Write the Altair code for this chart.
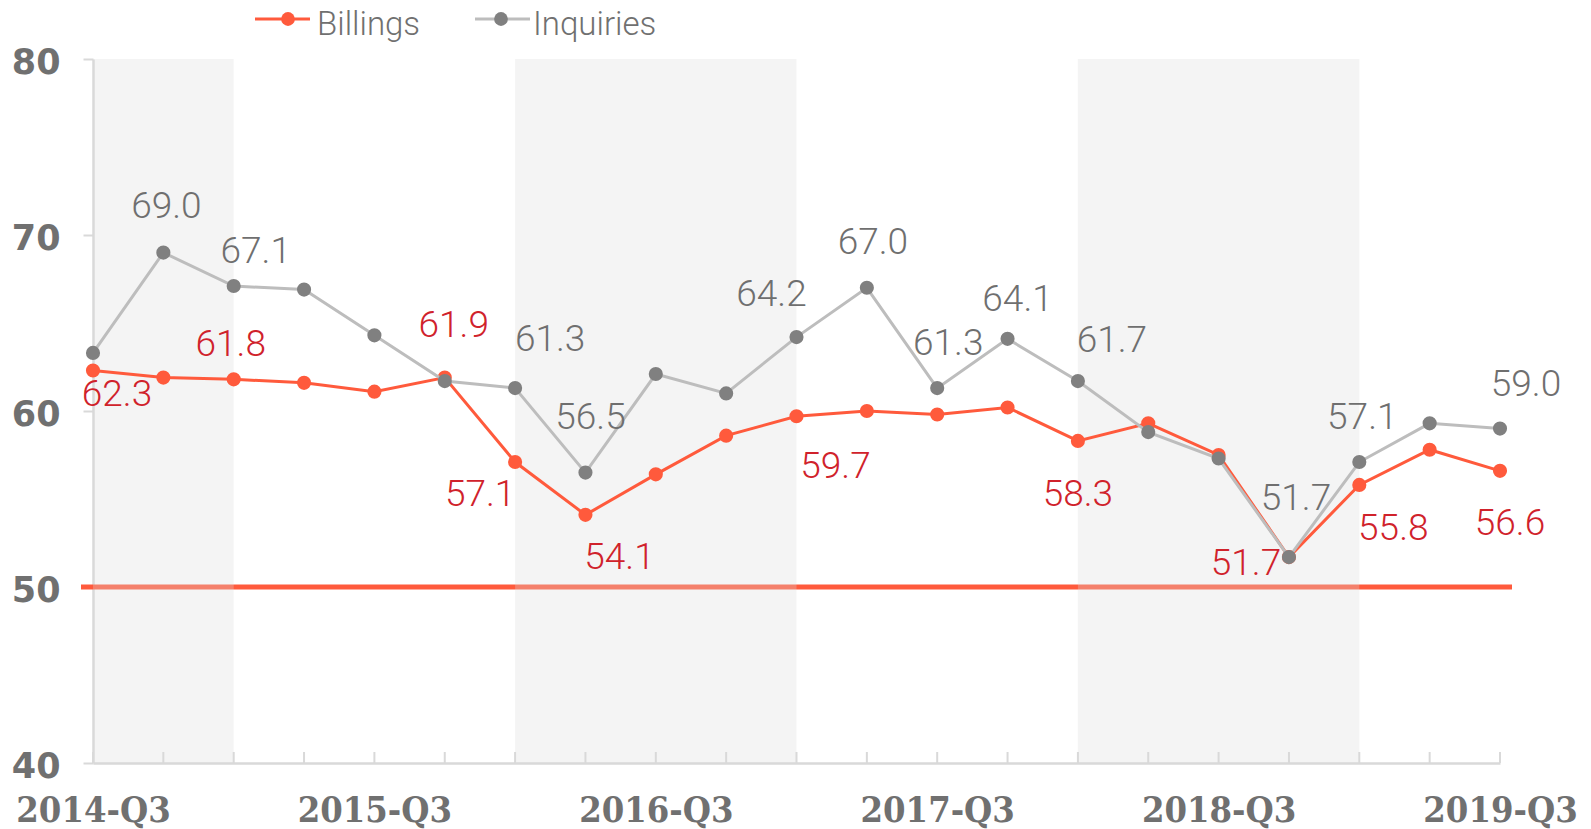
import json
import altair as alt
import pandas as pd

quarters = ["2014-Q3", "2014-Q4", "2015-Q1", "2015-Q2", "2015-Q3", "2015-Q4",
            "2016-Q1", "2016-Q2", "2016-Q3", "2016-Q4", "2017-Q1", "2017-Q2",
            "2017-Q3", "2017-Q4", "2018-Q1", "2018-Q2", "2018-Q3", "2018-Q4",
            "2019-Q1", "2019-Q2", "2019-Q3"]
billings = [62.3, 61.9, 61.8, 61.6, 61.1, 61.9, 57.1, 54.1, 56.4, 58.6, 59.7,
            60.0, 59.8, 60.2, 58.3, 59.3, 57.5, 51.7, 55.8, 57.8, 56.6]
inquiries = [63.3, 69.0, 67.1, 66.9, 64.3, 61.7, 61.3, 56.5, 62.1, 61.0, 64.2,
             67.0, 61.3, 64.1, 61.7, 58.8, 57.3, 51.7, 57.1, 59.3, 59.0]
series_names = ["Billings", "Inquiries"]
threshold = [50]
band_starts = ["2014-Q3", "2016-Q1", "2018-Q1"]
band_ends = ["2015-Q1", "2017-Q1", "2019-Q1"]

# label placement (quarter, dx, dy)
billings_labels = [("2014-Q3", 24, 24), ("2015-Q1", -3, -34), ("2015-Q4", 9, -52),
                   ("2016-Q1", -35, 33), ("2016-Q2", 34, 43), ("2017-Q1", 39, 51),
                   ("2018-Q1", 0, 54), ("2018-Q4", -43, 7), ("2019-Q1", 34, 44),
                   ("2019-Q3", 10, 53)]
inquiries_labels = [("2014-Q4", 3, -46), ("2015-Q1", 22, -34), ("2016-Q1", 35, -48),
                    ("2016-Q2", 5, -55), ("2017-Q1", -25, -42), ("2017-Q2", 6, -45),
                    ("2017-Q3", 11, -44), ("2017-Q4", 10, -39), ("2018-Q1", 34, -40),
                    ("2018-Q4", 7, -58), ("2019-Q1", 3, -44), ("2019-Q3", 26, -44)]

# legend layout (series, line start, line end, circle x, label x) in plot pixels
legend_layout = [("Billings", 162, 217, 195, 224),
                 ("Inquiries", 382, 437, 408, 440)]
LEGEND_LINE_Y = -40
LEGEND_TEXT_Y = -34

RED = "#ff5a3c"
RED_TEXT = "#d0222b"
GRAY_LINE = "#bdbdbd"
GRAY_PT = "#808080"
GRAY_TEXT = "#6f6f6f"
AXIS_GRAY = "#d9d9d9"
LABEL_GRAY = "#707070"
LINE_COLORS = {"Billings": RED, "Inquiries": GRAY_LINE}
PT_COLORS = {"Billings": RED, "Inquiries": GRAY_PT}

rows = []
for q, b, i in zip(quarters, billings, inquiries):
    rows.append({"quarter": q, "series": "Billings", "value": b})
    rows.append({"quarter": q, "series": "Inquiries", "value": i})
df = pd.DataFrame(rows)
df["label"] = df["value"].map(lambda v: f"{v:.1f}")
bands = pd.DataFrame({"start": band_starts, "end": band_ends})
qdf = pd.DataFrame({"quarter": quarters})
thr = pd.DataFrame({"y": threshold})
sdf = pd.DataFrame({"series": series_names})

W, H = 1407, 704
xscale = alt.Scale(type="point", domain=quarters, padding=0)
yscale = alt.Scale(domain=[40, 80], nice=False, zero=False)

label_expr = "indexof(%s, datum.value) %% 4 === 0 ? datum.value : ''" % json.dumps(quarters)

x_axis = alt.Axis(title=None, labelExpr=label_expr, ticks=False, domainColor=AXIS_GRAY,
                  domainWidth=2.5, labelFont="DejaVu Serif Condensed", labelFontWeight="bold",
                  labelFontSize=36, labelColor=LABEL_GRAY, labelPadding=30, labelAngle=0,
                  labelOverlap=False, grid=False)
y_axis = alt.Axis(title=None, values=[40, 50, 60, 70, 80], tickSize=10, tickColor=AXIS_GRAY,
                  tickWidth=2, domainColor=AXIS_GRAY, domainWidth=2.5, labelFont="DejaVu Sans",
                  labelFontWeight="bold", labelFontSize=35, labelColor=LABEL_GRAY,
                  labelPadding=23, labelOffset=3, grid=False)

X = alt.X("quarter:N", scale=xscale, axis=x_axis, sort=quarters)
Y = alt.Y("value:Q", scale=yscale, axis=y_axis)

rule50 = alt.Chart(thr).mark_rule(color=RED, strokeWidth=5).encode(
    y=alt.Y("y:Q", scale=yscale, axis=y_axis), x=alt.value(-12), x2=alt.value(W + 12))

band_layer = alt.Chart(bands).mark_rect(color="#dadada", opacity=0.3).encode(
    x=alt.X("start:N", scale=xscale, axis=x_axis), x2="end:N",
    y=alt.value(0), y2=alt.value(H))

tick_layer = alt.Chart(qdf).mark_rule(color=AXIS_GRAY, strokeWidth=2).encode(
    x=X, y=alt.value(H), y2=alt.value(H - 11))


def series_layers(name):
    base = alt.Chart(df).transform_filter(alt.datum.series == name)
    line = base.mark_line(strokeWidth=3, color=LINE_COLORS[name]).encode(x=X, y=Y)
    pts = base.mark_circle(size=200, opacity=1, color=PT_COLORS[name]).encode(x=X, y=Y)
    return [line, pts]


def label_layers(name, placements, color):
    out = []
    for q, dx, dy in placements:
        out.append(
            alt.Chart(df).transform_filter(
                (alt.datum.series == name) & (alt.datum.quarter == q)
            ).mark_text(font="Roboto", fontWeight=300, fontSize=37, color=color,
                        dx=dx, dy=dy, align="center", baseline="middle").encode(
                x=X, y=Y, text="label:N")
        )
    return out


def legend_layers():
    out = []
    for name, x0, x1, xc, xt in legend_layout:
        base = alt.Chart(sdf).transform_filter(alt.datum.series == name)
        out.append(base.mark_rule(color=LINE_COLORS[name], strokeWidth=3).encode(
            x=alt.value(x0), x2=alt.value(x1), y=alt.value(LEGEND_LINE_Y)))
        out.append(base.mark_circle(size=190, opacity=1, color=PT_COLORS[name]).encode(
            x=alt.value(xc), y=alt.value(LEGEND_LINE_Y)))
        out.append(base.mark_text(font="Roboto", fontWeight=300, fontSize=33,
                                  color=LABEL_GRAY, align="left", baseline="middle").encode(
            x=alt.value(xt), y=alt.value(LEGEND_TEXT_Y), text="series:N"))
    return out


layers = [rule50, band_layer, tick_layer]
layers += series_layers("Billings")
layers += series_layers("Inquiries")
layers += label_layers("Billings", billings_labels, RED_TEXT)
layers += label_layers("Inquiries", inquiries_labels, GRAY_TEXT)
layers += legend_layers()

chart = alt.layer(*layers).properties(
    width=W, height=H,
    padding={"left": 85, "top": 51, "right": 83, "bottom": 74},
    autosize=alt.AutoSizeParams(type="none"),
).configure_view(stroke=None)

chart.save("out.html", embed_options={"renderer": "svg", "actions": False})
